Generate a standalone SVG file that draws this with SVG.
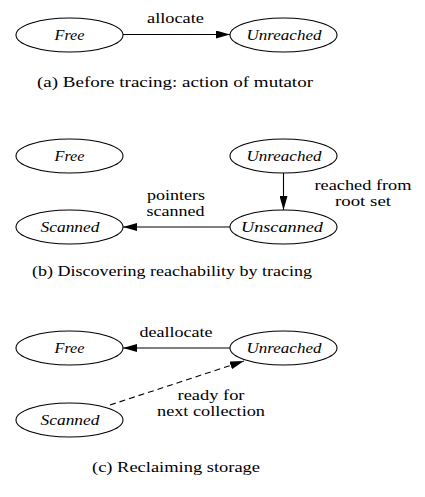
<svg xmlns="http://www.w3.org/2000/svg" width="425" height="497" viewBox="0 0 425 497">
<style>
.n{fill:#fff;stroke:#000;stroke-width:1.1}
.nl{font-family:'Liberation Serif','DejaVu Serif',serif;font-style:italic;font-size:15.5px;text-anchor:middle;fill:#000}
.t{font-family:'Liberation Serif','DejaVu Serif',serif;font-size:15.5px;text-anchor:middle;fill:#000}
.t2{font-family:'Liberation Serif','DejaVu Serif',serif;font-size:14px;text-anchor:middle;fill:#000}
.c{stroke:#000;stroke-width:1.1;fill:none}
</style>
<defs>
<marker id="ah" markerWidth="14" markerHeight="8" refX="14" refY="4" orient="auto" markerUnits="userSpaceOnUse">
<path d="M0,0 L14,4 L0,8 Z" fill="#000"/>
</marker>
</defs>
<rect width="425" height="497" fill="#fff"/>
<g id="a-free"><ellipse class="n" cx="69.5" cy="35" rx="53.5" ry="17"/><text class="nl" x="69.5" y="40" textLength="30" lengthAdjust="spacingAndGlyphs">Free</text></g>
<g id="a-unreached"><ellipse class="n" cx="283.5" cy="35" rx="53.5" ry="17"/><text class="nl" x="284" y="40" textLength="75" lengthAdjust="spacingAndGlyphs">Unreached</text></g>
<g id="b-free"><ellipse class="n" cx="69.5" cy="156" rx="53.5" ry="17"/><text class="nl" x="69.5" y="161" textLength="30" lengthAdjust="spacingAndGlyphs">Free</text></g>
<g id="b-unreached"><ellipse class="n" cx="283.5" cy="156" rx="53.5" ry="17"/><text class="nl" x="284" y="161" textLength="75" lengthAdjust="spacingAndGlyphs">Unreached</text></g>
<g id="b-scanned"><ellipse class="n" cx="69.5" cy="227" rx="53.5" ry="17"/><text class="nl" x="70" y="232" textLength="59" lengthAdjust="spacingAndGlyphs">Scanned</text></g>
<g id="b-unscanned"><ellipse class="n" cx="283.5" cy="227" rx="53.5" ry="17"/><text class="nl" x="282" y="232" textLength="82" lengthAdjust="spacingAndGlyphs">Unscanned</text></g>
<g id="c-free"><ellipse class="n" cx="69.5" cy="348" rx="53.5" ry="17"/><text class="nl" x="69.5" y="353" textLength="30" lengthAdjust="spacingAndGlyphs">Free</text></g>
<g id="c-unreached"><ellipse class="n" cx="283.5" cy="348" rx="53.5" ry="17"/><text class="nl" x="284" y="353" textLength="75" lengthAdjust="spacingAndGlyphs">Unreached</text></g>
<g id="c-scanned"><ellipse class="n" cx="69.5" cy="420" rx="53.5" ry="17"/><text class="nl" x="70" y="425" textLength="59" lengthAdjust="spacingAndGlyphs">Scanned</text></g>
<g id="connectors">
<line class="c" x1="123" y1="34.5" x2="230" y2="34.5" marker-end="url(#ah)"/>
<line class="c" x1="283.5" y1="173" x2="283.5" y2="210" marker-end="url(#ah)"/>
<line class="c" x1="230" y1="227" x2="123" y2="227" marker-end="url(#ah)"/>
<line class="c" x1="230" y1="348" x2="123" y2="348" marker-end="url(#ah)"/>
<line class="c" x1="110" y1="405" x2="244" y2="361" stroke-dasharray="6,4" marker-end="url(#ah)"/>
</g>
<g id="labels">
<text class="t" x="175.5" y="23" textLength="57" lengthAdjust="spacingAndGlyphs">allocate</text>
<text class="t2" x="363" y="190" textLength="97" lengthAdjust="spacingAndGlyphs">reached from</text>
<text class="t2" x="363" y="206" textLength="56" lengthAdjust="spacingAndGlyphs">root set</text>
<text class="t2" x="176" y="200" textLength="58" lengthAdjust="spacingAndGlyphs">pointers</text>
<text class="t2" x="175.5" y="216" textLength="58" lengthAdjust="spacingAndGlyphs">scanned</text>
<text class="t" x="176" y="337" textLength="73" lengthAdjust="spacingAndGlyphs">deallocate</text>
<text class="t2" x="211" y="400" textLength="67" lengthAdjust="spacingAndGlyphs">ready for</text>
<text class="t2" x="211" y="416" textLength="108" lengthAdjust="spacingAndGlyphs">next collection</text>
<text class="t" x="175" y="87" textLength="276" lengthAdjust="spacingAndGlyphs">(a) Before tracing: action of mutator</text>
<text class="t" x="172" y="276" textLength="280" lengthAdjust="spacingAndGlyphs">(b) Discovering reachability by tracing</text>
<text class="t" x="176" y="472" textLength="168" lengthAdjust="spacingAndGlyphs">(c) Reclaiming storage</text>
</g>
</svg>
